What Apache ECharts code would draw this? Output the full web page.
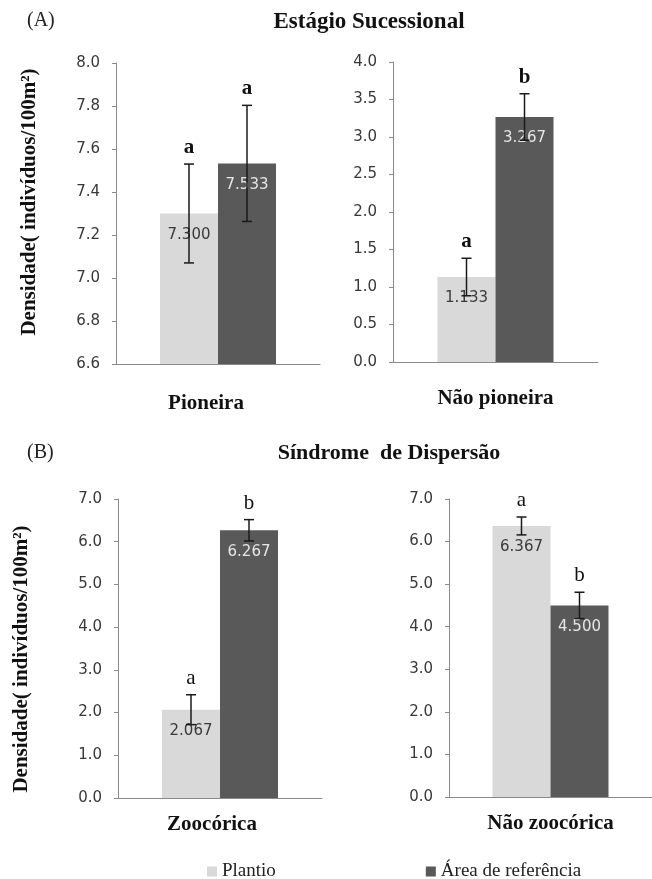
<!DOCTYPE html>
<html>
<head>
<meta charset="utf-8">
<script src="https://cdn.jsdelivr.net/npm/echarts@6/dist/echarts.min.js"></script>
<style>
  html, body { margin: 0; padding: 0; background: #ffffff; }
  #chart { width: 652px; height: 879px; }
</style>
</head>
<body>
<div id="chart"></div>
<script>
// Density of individuals per 100 m², plantation vs. reference area
const panelCategories = ['Pioneira', 'Não pioneira', 'Zoocórica', 'Não zoocórica'];
const plantioValues = [7.300, 1.133, 2.067, 6.367];
const referenciaValues = [7.533, 3.267, 6.267, 4.500];
const plantioErrors = [0.23, 0.25, 0.35, 0.21];
const referenciaErrors = [0.27, 0.31, 0.25, 0.31];
const plantioLetters = ['a', 'a', 'a', 'a'];
const referenciaLetters = ['a', 'b', 'b', 'b'];
const yMins = [6.6, 0, 0, 0];
const yMaxs = [8.0, 4.0, 7.0, 7.0];
const yIntervals = [0.2, 0.5, 1, 1];
const seriesNames = ['Plantio', 'Área de referência'];
const yAxisTitle = 'Densidade( indivíduos/100m²)';
const sectionLabels = ['(A)', '(B)'];
const sectionTitles = ['Estágio Sucessional', 'Síndrome  de Dispersão'];

const SERIF = '"Liberation Serif", "Times New Roman", serif';
const SANS = '"DejaVu Sans", Verdana, sans-serif';
const LIGHT = '#d9d9d9';
const DARK = '#595959';
const AXIS = '#8a8a8a';
const BAR_W = 58;

const grids = [
  { left: 116, top: 63, width: 204, height: 301 },
  { left: 393, top: 62, width: 205, height: 300 },
  { left: 118, top: 499, width: 204, height: 299 },
  { left: 449, top: 499, width: 207, height: 298 }
];
const categoryMargins = [29, 26, 16, 16];
const categoryPadding = [[0, 24, 0, 0], [0, 0, 0, 0], [0, 16, 0, 0], [0, 0, 0, 0]];
const boldLetters = [true, true, false, false];

const chart = echarts.init(document.getElementById('chart'), null, { renderer: 'canvas' });

function errorRenderer(side, letter, bold) {
  return function (params, api) {
    const v = api.value(1), e = api.value(2);
    const top = api.coord([0, v + e]);
    const bot = api.coord([0, v - e]);
    const x = top[0] + side * BAR_W / 2;
    const cap = 5;
    const ls = { stroke: '#1a1a1a', lineWidth: 1.5 };
    return {
      type: 'group',
      children: [
        { type: 'line', shape: { x1: x, y1: top[1], x2: x, y2: bot[1] }, style: ls },
        { type: 'line', shape: { x1: x - cap, y1: top[1], x2: x + cap, y2: top[1] }, style: ls },
        { type: 'line', shape: { x1: x - cap, y1: bot[1], x2: x + cap, y2: bot[1] }, style: ls },
        {
          type: 'text',
          style: {
            x: x, y: top[1] - 6, text: letter,
            font: (bold ? 'bold ' : '') + '21px ' + SERIF,
            fill: '#111', align: 'center', verticalAlign: 'bottom'
          }
        }
      ]
    };
  };
}

const xAxes = [], yAxes = [], series = [];
for (let i = 0; i < 4; i++) {
  xAxes.push({
    type: 'category', gridIndex: i, data: [panelCategories[i]],
    axisLine: { lineStyle: { color: AXIS, width: 1 } },
    axisTick: { show: false },
    axisLabel: {
      margin: categoryMargins[i], color: '#111', padding: categoryPadding[i],
      fontFamily: SERIF, fontWeight: 'bold', fontSize: 21
    }
  });
  yAxes.push({
    type: 'value', gridIndex: i,
    min: yMins[i], max: yMaxs[i], interval: yIntervals[i],
    splitLine: { show: false },
    axisLine: { show: true, lineStyle: { color: AXIS, width: 1 } },
    axisTick: { show: true, length: 4, lineStyle: { color: AXIS } },
    axisLabel: {
      margin: 16, color: '#383838', fontFamily: SANS, fontSize: 15,
      formatter: v => v.toFixed(1)
    }
  });

  series.push({
    name: seriesNames[0], type: 'bar', xAxisIndex: i, yAxisIndex: i,
    data: [plantioValues[i]], barWidth: BAR_W, barGap: '0%',
    itemStyle: { color: LIGHT },
    label: {
      show: true, position: 'insideTop', distance: 14,
      color: '#3a3a3a', fontFamily: SANS, fontSize: 15,
      formatter: p => p.value.toFixed(3)
    }
  });
  series.push({
    name: seriesNames[1], type: 'bar', xAxisIndex: i, yAxisIndex: i,
    data: [referenciaValues[i]], barWidth: BAR_W, barGap: '0%',
    itemStyle: { color: DARK },
    label: {
      show: true, position: 'insideTop', distance: 14,
      color: '#e6e6e6', fontFamily: SANS, fontSize: 15,
      formatter: p => p.value.toFixed(3)
    }
  });
  series.push({
    type: 'custom', xAxisIndex: i, yAxisIndex: i, z: 5,
    data: [[0, plantioValues[i], plantioErrors[i]]],
    renderItem: errorRenderer(-1, plantioLetters[i], boldLetters[i]),
    silent: true
  });
  series.push({
    type: 'custom', xAxisIndex: i, yAxisIndex: i, z: 5,
    data: [[0, referenciaValues[i], referenciaErrors[i]]],
    renderItem: errorRenderer(1, referenciaLetters[i], boldLetters[i]),
    silent: true
  });
}

const titleFont = 'bold 21px ' + SERIF;
chart.setOption({
  animation: false,
  backgroundColor: '#ffffff',
  grid: grids.map(g => Object.assign({ containLabel: false }, g)),
  xAxis: xAxes,
  yAxis: yAxes,
  legend: {
    data: seriesNames, left: 202, top: 857, itemGap: 150,
    icon: 'rect', itemWidth: 10, itemHeight: 10,
    textStyle: { fontFamily: SERIF, fontSize: 19, color: '#222' }
  },
  graphic: [
    { type: 'text', left: 27, top: 11, style: { text: sectionLabels[0], font: '20px ' + SERIF, fill: '#222' } },
    { type: 'text', x: 369, y: 22, style: { text: sectionTitles[0], font: 'bold 23px ' + SERIF, fill: '#111', align: 'center', verticalAlign: 'middle' } },
    { type: 'text', left: 27, top: 443, style: { text: sectionLabels[1], font: '20px ' + SERIF, fill: '#222' } },
    { type: 'text', x: 389, y: 453, style: { text: sectionTitles[1], font: 'bold 22px ' + SERIF, fill: '#111', align: 'center', verticalAlign: 'middle' } },
    { type: 'text', x: 30, y: 202, rotation: Math.PI / 2, style: { text: yAxisTitle, font: titleFont, fill: '#111', align: 'center', verticalAlign: 'middle' } },
    { type: 'text', x: 22, y: 659, rotation: Math.PI / 2, style: { text: yAxisTitle, font: titleFont, fill: '#111', align: 'center', verticalAlign: 'middle' } }
  ],
  series: series
});
</script>
</body>
</html>
